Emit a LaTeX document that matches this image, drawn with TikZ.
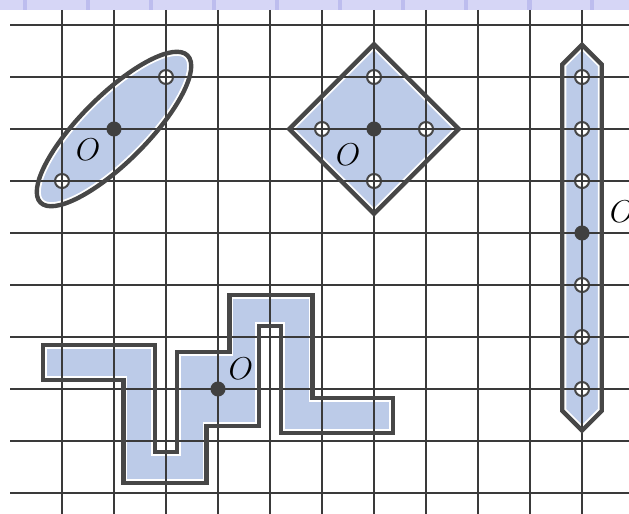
\documentclass[tikz,border=0pt]{standalone}
\definecolor{shapefill}{HTML}{BCCBE8}
\definecolor{edgec}{HTML}{474747}
\definecolor{gridc}{HTML}{3A3A3A}
\definecolor{bandc}{HTML}{D6D6F6}
\definecolor{tickc}{HTML}{BDBDEE}
\newcommand\polypath{(-0.36,-6.15) -- (1.79,-6.15) -- (1.79,-8.21) -- (2.21,-8.21) -- (2.21,-6.29) -- (3.22,-6.29) -- (3.22,-5.19) -- (4.82,-5.19) -- (4.82,-7.17) -- (6.36,-7.17) -- (6.36,-7.85) -- (4.21,-7.85) -- (4.21,-5.79) -- (3.79,-5.79) -- (3.79,-7.71) -- (2.78,-7.71) -- (2.78,-8.81) -- (1.18,-8.81) -- (1.18,-6.83) -- (-0.36,-6.83) -- cycle}
\newcommand\diampath{(6,-0.37) -- (7.63,-2) -- (6,-3.63) -- (4.37,-2) -- cycle}
\newcommand\barpath{(10,-0.38) -- (10.38,-0.76) -- (10.38,-7.42) -- (10,-7.8) -- (9.62,-7.42) -- (9.62,-0.76) -- cycle}
\newcommand\ellpath{(1,-2) ellipse [x radius=2.0, y radius=0.64]}
\newcommand\regionwithgap[1]{\fill[shapefill] #1; \begin{scope} \clip #1; \draw[gapline] #1; \end{scope}}
\begin{document}
\begin{tikzpicture}[x=1cm,y=1cm,
  gridline/.style={gridc, line width=0.7pt},
  border/.style={edgec, line width=2.4pt, line join=miter},
  gapline/.style={white, line width=4.4pt},
  hollow/.style={circle, draw=edgec, line width=1.1pt, fill=white, minimum size=0.27cm, inner sep=0pt},
  centre/.style={circle, fill=edgec!90!black, minimum size=0.29cm, inner sep=0pt},
  olabel/.style={font=\fontsize{19}{23}\selectfont, inner sep=0pt}]
\useasboundingbox (-1.1923,-9.3846) rectangle (10.9038,0.4808);
% top band
\fill[bandc] (-1.1923,0.29) rectangle (10.9038,0.4808);
\foreach \t in {-0.71,0.50,1.71,2.92,4.14,5.35,6.56,7.77,8.99,10.2}
  \fill[tickc] (\t-0.04,0.29) rectangle (\t+0.04,0.4808);
% regions
\begin{scope}[rotate around={45:(1,-2)}]
  \regionwithgap{\ellpath}
\end{scope}
\regionwithgap{\diampath}
\regionwithgap{\barpath}
\regionwithgap{\polypath}
% hollow points
\node[hollow] (e1) at (2,-1) {};
\node[hollow] (e2) at (0,-3) {};
\node[hollow] (d1) at (6,-1) {};
\node[hollow] (d2) at (5,-2) {};
\node[hollow] (d3) at (7,-2) {};
\node[hollow] (d4) at (6,-3) {};
\foreach \j in {1,2,3,5,6,7}
  \node[hollow] (b\j) at (10,-\j) {};
% grid
\foreach \j in {0,...,9}
  \draw[gridline] (-1.0,-\j) -- (10.95,-\j);
\foreach \i in {0,...,10}
  \draw[gridline] (\i,0.29) -- (\i,-9.4);
% borders
\begin{scope}[rotate around={45:(1,-2)}]
  \draw[border] \ellpath;
\end{scope}
\draw[border] \diampath;
\draw[border] \barpath;
\draw[border] \polypath;
% centres
\node[centre] (oe) at (1,-2) {};
\node[centre] (od) at (6,-2) {};
\node[centre] (ob) at (10,-4) {};
\node[centre] (op) at (3,-7) {};
% labels
\node[olabel] (le) at (0.5,-2.4) {$O$};
\node[olabel] (ld) at (5.5,-2.5) {$O$};
\node[olabel] (lp) at (3.44,-6.6) {$O$};
\node[olabel] (lb) at (10.77,-3.6) {$O$};
\end{tikzpicture}
\end{document}
